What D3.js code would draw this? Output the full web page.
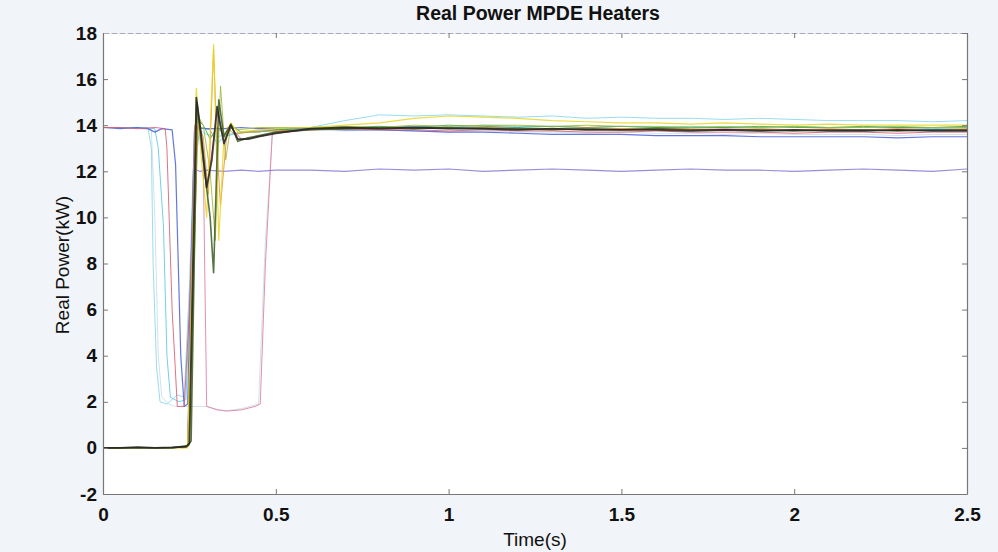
<!DOCTYPE html>
<html>
<head>
<meta charset="utf-8">
<script src="https://cdn.jsdelivr.net/npm/d3@7"></script>
<style>
  html, body { margin: 0; padding: 0; background: #f1f4f8; }
  #chart { width: 998px; height: 552px; }
  text { font-family: Arial, "Liberation Sans", sans-serif; fill: #111; }
</style>
</head>
<body>
<div id="chart"></div>
<script>
// ---- data ----
const xTicks = [0, 0.5, 1, 1.5, 2, 2.5];
const yTicks = [-2, 0, 2, 4, 6, 8, 10, 12, 14, 16, 18];

// shared time grid for the settled part of every trace
const steadyT = [0.6, 0.7, 0.8, 0.9, 1.0, 1.1, 1.2, 1.3, 1.4, 1.5, 1.6, 1.7, 1.8, 1.9, 2.0, 2.1, 2.2, 2.3, 2.4, 2.5];

// start-up part of each trace as [time, kW]
const faintStart = [[0,13.9],[0.1,13.85],[0.14,13.8],[0.15,10],[0.16,4],[0.17,2.2],[0.19,1.9],[0.21,1.8],[0.24,1.8],[0.3,1.8],[0.35,1.6],[0.4,1.7],[0.45,1.9],[0.47,9],[0.49,13.6],[0.5,13.7]];
const cyanAStart = [[0,13.9],[0.05,13.9],[0.1,13.85],[0.13,13.9],[0.14,13],[0.145,8],[0.155,3.5],[0.165,2.0],[0.185,1.9],[0.2,2.1],[0.215,2.3],[0.235,2.2],[0.25,7],[0.265,13.9],[0.3,13.6],[0.33,13.5],[0.36,13.6],[0.4,13.7],[0.5,13.8]];
const cyanBStart = [[0,13.9],[0.1,13.9],[0.15,13.85],[0.16,13],[0.175,9.6],[0.185,4],[0.195,2.2],[0.22,2.0],[0.24,2.1],[0.265,12],[0.28,13.9],[0.31,13.8],[0.33,13.2],[0.35,13.5],[0.4,13.7],[0.5,13.8]];
const blueStart = [[0,13.9],[0.05,13.85],[0.1,13.9],[0.13,13.85],[0.15,13.7],[0.17,13.85],[0.2,13.8],[0.21,12.3],[0.225,4],[0.235,1.8],[0.245,1.9],[0.255,8],[0.265,13.9],[0.3,13.85],[0.35,13.85],[0.4,13.9],[0.45,13.85],[0.5,13.85]];
const redStart = [[0,13.9],[0.05,13.9],[0.1,13.85],[0.15,13.9],[0.18,13.85],[0.185,13],[0.2,6],[0.215,1.8],[0.235,1.8],[0.25,6],[0.27,14.8],[0.3,11.2],[0.33,14.5],[0.35,13.3],[0.37,13.9],[0.4,13.4],[0.45,13.5],[0.5,13.65]];
const pinkStart = [[0,0],[0.1,0.02],[0.2,0],[0.245,0.05],[0.265,14],[0.28,14.2],[0.29,12.5],[0.3,1.8],[0.31,1.75],[0.33,1.65],[0.36,1.6],[0.4,1.65],[0.44,1.8],[0.455,1.9],[0.47,8],[0.49,13.7],[0.5,13.75]];
const purpleStart = [[0,0],[0.1,0],[0.2,0],[0.245,0.05],[0.262,12.1],[0.28,12.0],[0.3,12.05],[0.35,12.0],[0.4,12.05],[0.45,12.0],[0.5,12.05]];
const greenStart = [[0,0],[0.1,0],[0.2,0.02],[0.245,0.05],[0.27,14.3],[0.29,14.0],[0.31,13.4],[0.33,13.9],[0.35,13.6],[0.37,14.0],[0.4,13.7],[0.45,13.7],[0.5,13.8]];
const oliveStart = [[0,0],[0.1,0.02],[0.2,0],[0.25,0.1],[0.275,14.4],[0.29,14],[0.31,12],[0.325,9],[0.34,15.7],[0.355,12.5],[0.37,14.0],[0.39,13.8],[0.45,13.9],[0.5,13.9]];
const orangeStart = [[0,0],[0.1,0],[0.2,0.02],[0.235,0],[0.245,0.1],[0.275,14.0],[0.29,13.5],[0.305,11],[0.32,17.3],[0.33,13],[0.34,10.5],[0.36,13.9],[0.38,13.6],[0.42,13.7],[0.5,13.75]];
const yellowStart = [[0,0],[0.1,0.02],[0.2,0],[0.245,0],[0.27,15.6],[0.285,12.5],[0.3,10],[0.32,17.5],[0.335,9],[0.35,13.5],[0.37,14.1],[0.39,13.7],[0.45,13.8],[0.5,13.85]];
const darkGreenStart = [[0,0],[0.1,0],[0.2,0],[0.245,0.1],[0.255,0.3],[0.272,15.0],[0.29,12.5],[0.31,10],[0.32,7.6],[0.335,15.1],[0.35,13.5],[0.37,14.05],[0.39,13.3],[0.42,13.45],[0.5,13.7]];
const blackStart = [[0,0],[0.05,0],[0.1,0.03],[0.15,0],[0.2,0.02],[0.24,0.05],[0.25,0.2],[0.27,15.2],[0.285,13.5],[0.3,11.3],[0.315,12.5],[0.33,14.8],[0.35,13.2],[0.37,14.0],[0.39,13.4],[0.42,13.4],[0.45,13.5],[0.5,13.65]];

// settled values on steadyT
const faintSteady = [13.8,13.75,13.8,13.75,13.7,13.75,13.7,13.7,13.65,13.7,13.65,13.65,13.6,13.65,13.6,13.6,13.6,13.55,13.6,13.6];
const cyanASteady = [13.9,14.2,14.45,14.4,14.45,14.4,14.35,14.4,14.3,14.35,14.3,14.3,14.25,14.3,14.25,14.2,14.2,14.2,14.15,14.2];
const cyanBSteady = [13.85,13.9,13.9,13.95,13.9,14.0,13.95,13.95,13.9,13.95,13.9,13.95,13.9,13.9,13.95,13.9,13.9,13.9,13.85,13.9];
const blueSteady = [13.85,13.8,13.8,13.75,13.7,13.7,13.65,13.6,13.6,13.6,13.55,13.55,13.55,13.5,13.5,13.5,13.5,13.45,13.5,13.5];
const redSteady = [13.8,13.85,13.8,13.8,13.75,13.8,13.75,13.75,13.7,13.7,13.75,13.7,13.7,13.7,13.65,13.7,13.7,13.65,13.7,13.7];
const pinkSteady = [13.8,13.9,13.85,13.9,13.85,13.9,13.85,13.85,13.8,13.85,13.8,13.8,13.85,13.8,13.8,13.8,13.75,13.8,13.8,13.8];
const purpleSteady = [12.05,12.0,12.1,12.05,12.1,12.0,12.05,12.1,12.05,12.0,12.05,12.1,12.05,12.05,12.0,12.05,12.1,12.05,12.0,12.1];
const greenSteady = [13.85,13.9,13.95,13.9,14.0,13.95,13.9,13.95,13.9,13.95,13.9,13.9,13.9,13.95,13.9,13.9,13.95,13.9,13.9,13.95];
const oliveSteady = [13.9,13.95,13.9,14.0,13.95,14.0,14.0,13.95,14.0,13.95,13.95,13.9,13.95,13.9,13.95,13.9,13.9,13.95,13.9,13.9];
const orangeSteady = [13.8,13.85,13.85,13.9,13.85,13.9,13.85,13.85,13.9,13.85,13.85,13.85,13.8,13.85,13.8,13.85,13.8,13.85,13.8,13.85];
const yellowSteady = [13.9,14.0,14.1,14.3,14.4,14.35,14.3,14.2,14.15,14.1,14.1,14.05,14.1,14.05,14.0,14.05,14.0,14.0,14.0,14.0];
const darkGreenSteady = [13.8,13.85,13.9,13.85,13.9,13.85,13.85,13.8,13.85,13.8,13.85,13.8,13.8,13.8,13.75,13.8,13.8,13.75,13.8,13.8];
const blackSteady = [13.85,13.9,13.85,13.9,13.85,13.85,13.8,13.85,13.8,13.8,13.8,13.75,13.8,13.75,13.8,13.75,13.75,13.8,13.75,13.75];

const seriesNames = ["faint","cyanA","cyanB","blue","red","pink","purple","green","olive","orange","yellow","darkGreen","black"];
const seriesStarts = [faintStart,cyanAStart,cyanBStart,blueStart,redStart,pinkStart,purpleStart,greenStart,oliveStart,orangeStart,yellowStart,darkGreenStart,blackStart];
const seriesSteady = [faintSteady,cyanASteady,cyanBSteady,blueSteady,redSteady,pinkSteady,purpleSteady,greenSteady,oliveSteady,orangeSteady,yellowSteady,darkGreenSteady,blackSteady];

// ---- styles ----
const seriesColors = ["#c9dde6","#86d6ee","#5fc4e8","#4a5fd8","#d85a6e","#e07aa0","#8a7ad2","#3f9f45","#9cb83a","#e3902f","#e8d622","#3d5a22","#222222"];
const seriesWidths = [1,1,1,1.2,1,1,1.2,1,1,1,1.2,1.6,1.8];

class PowerChart {
    margin = {top: 33, right: 31, bottom: 58, left: 103};
    width;
    height;
    svg;
    xScale;
    yScale;

    constructor(el){
        this.el = el;
    }

    create(size){
        this.width = size.width - this.margin.left - this.margin.right;
        this.height = size.height - this.margin.top - this.margin.bottom;

        const root = d3.select(this.el).append("svg")
            .attr("width", size.width)
            .attr("height", size.height);

        this.svg = root.append("g")
            .attr("transform", "translate(" + this.margin.left + "," + this.margin.top + ")");

        this.svg.append("rect")
            .attr("width", this.width)
            .attr("height", this.height)
            .attr("fill", "#ffffff");

        this.svg.append("clipPath").attr("id", "plotClip")
            .append("rect").attr("width", this.width).attr("height", this.height);

        this.xScale = d3.scaleLinear().domain([0, 2.5]).range([0, this.width]);
        this.yScale = d3.scaleLinear().domain([-2, 18]).range([this.height, 0]);

        // titles
        root.append("text")
            .attr("x", 538).attr("y", 20)
            .attr("text-anchor", "middle")
            .attr("font-size", 19.5).attr("font-weight", "bold")
            .text("Real Power MPDE Heaters");
        root.append("text")
            .attr("x", 535).attr("y", 546)
            .attr("text-anchor", "middle")
            .attr("font-size", 19)
            .text("Time(s)");
        root.append("text")
            .attr("transform", "translate(69,265) rotate(-90)")
            .attr("text-anchor", "middle")
            .attr("font-size", 19)
            .text("Real Power(kW)");
    }

    renderAxes(){
        const axisColor = "#777";
        const plain = d => String(d);
        const xAxisG = this.svg.append("g")
            .attr("transform", "translate(0," + this.height + ")")
            .call(d3.axisBottom(this.xScale).tickValues(xTicks).tickFormat(plain).tickSizeInner(-5).tickSizeOuter(0).tickPadding(14));
        const yAxisG = this.svg.append("g")
            .call(d3.axisLeft(this.yScale).tickValues(yTicks).tickFormat(plain).tickSizeInner(-5).tickSizeOuter(0).tickPadding(6));
        const topG = this.svg.append("g")
            .call(d3.axisTop(this.xScale).tickValues(xTicks).tickSizeInner(-5).tickSizeOuter(0).tickFormat(""));
        const rightG = this.svg.append("g")
            .attr("transform", "translate(" + this.width + ",0)")
            .call(d3.axisRight(this.yScale).tickValues(yTicks).tickSizeInner(-5).tickSizeOuter(0).tickFormat(""));

        [xAxisG, yAxisG, topG, rightG].forEach(g => {
            g.select(".domain").attr("stroke", axisColor).attr("stroke-width", 1.2);
            g.selectAll(".tick line").attr("stroke", axisColor);
        });
        topG.select(".domain").attr("stroke", "#aab").attr("stroke-dasharray", "6,2");
        [xAxisG, yAxisG].forEach(g => {
            g.selectAll(".tick text")
                .attr("font-size", 19).attr("font-weight", "bold")
                .attr("font-family", "Arial, 'Liberation Sans', sans-serif").attr("fill", "#111");
        });
    }

    renderLines(){
        const line = d3.line()
            .x(d => this.xScale(d[0]))
            .y(d => this.yScale(d[1]));

        const traces = seriesNames.map((name, i) => ({
            name: name,
            points: seriesStarts[i].concat(steadyT.map((t, j) => [t, seriesSteady[i][j]]))
        }));

        this.svg.append("g")
            .attr("clip-path", "url(#plotClip)")
            .selectAll(".traceLine")
            .data(traces, d => d.name)
            .join(enter => enter.append("path")
                .attr("class", "traceLine")
                .attr("fill", "none")
                .attr("stroke", (d, i) => seriesColors[i])
                .attr("stroke-width", (d, i) => seriesWidths[i])
                .attr("stroke-opacity", 0.85)
                .attr("stroke-linejoin", "round")
                .attr("d", d => line(d.points)));
    }
}

const chart = new PowerChart(document.getElementById("chart"));
chart.create({width: 998, height: 552});
chart.renderLines();
chart.renderAxes();
</script>
</body>
</html>
